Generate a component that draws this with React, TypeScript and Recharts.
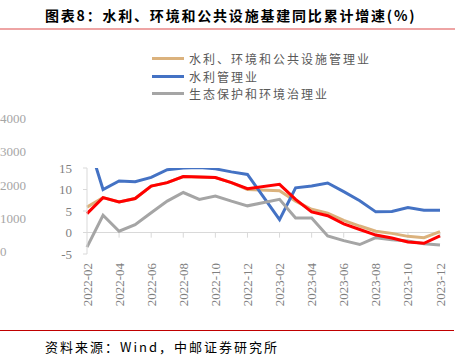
import { LineChart, Line, XAxis, YAxis, ReferenceLine, Legend } from "recharts";

// months shown on the category axis (Jan is missing in the source data)
const months = [
  "2022-02", "2022-03", "2022-04", "2022-05", "2022-06", "2022-07", "2022-08",
  "2022-09", "2022-10", "2022-11", "2022-12", "2023-01", "2023-02", "2023-03",
  "2023-04", "2023-05", "2023-06", "2023-07", "2023-08", "2023-09", "2023-10",
  "2023-11", "2023-12",
];

const waterEnvPublic = [
  5.9, 8.1, 7.1, 7.9, 10.8, 11.6, 13.0, 12.9, 12.8, 11.6, 10.0, null, 9.7, 7.3,
  5.4, 4.5, 2.8, 1.5, 0.3, -0.2, -0.9, -1.2, 0.2,
];
const waterMgmt = [
  22, 10.0, 12.0, 11.8, 12.8, 14.6, 15.0, 15.1, 14.8, 14.1, 13.5, null, 3.0,
  10.4, 10.8, 11.5, 9.5, 7.4, 4.8, 4.9, 5.8, 5.2, 5.2,
];
const ecoEnv = [
  -3.4, 4.0, 0.3, 1.8, 4.6, 7.3, 9.3, 7.7, 8.5, 7.3, 6.2, null, 7.7, 3.4, 3.4,
  -0.8, -1.9, -2.8, -1.2, -1.7, -2.0, -2.6, -2.9,
];
const infraTotal = [
  4.4, 8.1, 7.1, 7.9, 10.8, 11.6, 13.0, 12.9, 12.8, 11.6, 10.2, null, 11.2,
  7.7, 4.8, 3.9, 2.0, 0.7, -0.6, -1.3, -2.2, -2.5, -0.8,
];

const yTicks = [-5, 0, 5, 10, 15];
const ghostTicks = ["4000", "3000", "2000", "1000", "0"];

const data = months.map((m, i) => ({
  month: m,
  waterEnvPublic: waterEnvPublic[i],
  waterMgmt: waterMgmt[i],
  ecoEnv: ecoEnv[i],
  infraTotal: infraTotal[i],
}));

const axisGray = "#d9d9d9";
const labelGray = "#7f7f7f";
const serif = "'Liberation Serif', 'Times New Roman', serif";
const cjk = "'Noto Sans CJK SC', 'Noto Sans', sans-serif";

function MonthTick(props: any) {
  const { x, y, payload } = props;
  return (
    <text
      x={x}
      y={y}
      dy="0.35em"
      transform={`rotate(-90, ${x}, ${y})`}
      textAnchor="end"
      fill={labelGray}
      fontSize={13}
      fontFamily={serif}
    >
      {payload.value}
    </text>
  );
}

function LegendBox(props: any) {
  const items = (props.payload || []).filter((p: any) => p.type !== "none");
  return (
    <div style={{ fontFamily: cjk, fontSize: 12, color: "#595959" }}>
      {items.map((p: any) => (
        <div
          key={p.value}
          style={{ display: "flex", alignItems: "center", height: 17.5 }}
        >
          <span
            style={{
              display: "inline-block",
              width: 32,
              height: 3,
              background: p.color,
              marginRight: 5,
            }}
          />
          <span style={{ letterSpacing: 2 }}>{p.value}</span>
        </div>
      ))}
    </div>
  );
}

export default function App() {
  return (
    <div
      style={{
        position: "absolute",
        left: 0,
        top: 0,
        width: 464,
        height: 357,
        background: "#fff",
        overflow: "hidden",
      }}
    >
      <div
        style={{
          position: "absolute",
          left: 45,
          top: 5,
          fontFamily: cjk,
          fontWeight: 700,
          fontSize: 14,
          letterSpacing: 1.8,
          color: "#000",
          whiteSpace: "nowrap",
        }}
      >
        图表8：水利、环境和公共设施基建同比累计增速(%)
      </div>
      <div
        style={{
          position: "absolute",
          left: 0,
          top: 28,
          width: 455,
          height: 2,
          background: "#eea4a4",
        }}
      />

      {ghostTicks.map((t, i) => (
        <div
          key={t}
          style={{
            position: "absolute",
            left: 0,
            top: 111 + i * 33.3,
            fontFamily: serif,
            fontSize: 13,
            color: "#a6a6a6",
          }}
        >
          {t}
        </div>
      ))}

      <div style={{ position: "absolute", left: 0, top: 0 }}>
        <LineChart
          width={464}
          height={357}
          data={data}
          margin={{ top: 168, right: 24, bottom: 43, left: 60 }}
        >
          <XAxis
            dataKey="month"
            interval={1}
            axisLine={false}
            tickLine={false}
            tickSize={0}
            tickMargin={9}
            height={60}
            tick={<MonthTick />}
          />
          <YAxis
            domain={[-5, 15]}
            ticks={yTicks}
            allowDataOverflow
            width={27}
            axisLine={{ stroke: axisGray }}
            tickLine={{ stroke: axisGray }}
            tickSize={4}
            tickMargin={11}
            tick={{ fill: labelGray, fontSize: 13, fontFamily: serif }}
          />
          <ReferenceLine y={0} stroke={axisGray} strokeWidth={1} />
          {months
            .filter((_, i) => i % 2 === 0 && i > 0)
            .map((m) => (
              <ReferenceLine
                key={m}
                segment={[
                  { x: m, y: 0 },
                  { x: m, y: -1.2 },
                ]}
                stroke={axisGray}
                strokeWidth={1}
              />
            ))}
          <Legend
            layout="vertical"
            align="center"
            verticalAlign="middle"
            wrapperStyle={{ position: "absolute", top: 50, left: 152, width: 260 }}
            content={<LegendBox />}
          />
          <Line
            dataKey="waterEnvPublic"
            name="水利、环境和公共设施管理业"
            stroke="#dbb27d"
            strokeWidth={3}
            dot={false}
            connectNulls
            isAnimationActive={false}
          />
          <Line
            dataKey="waterMgmt"
            name="水利管理业"
            stroke="#4472c4"
            strokeWidth={3}
            dot={false}
            connectNulls
            isAnimationActive={false}
          />
          <Line
            dataKey="ecoEnv"
            name="生态保护和环境治理业"
            stroke="#a5a5a5"
            strokeWidth={3}
            dot={false}
            connectNulls
            isAnimationActive={false}
          />
          <Line
            dataKey="infraTotal"
            name="基建"
            legendType="none"
            stroke="#ff0000"
            strokeWidth={3}
            dot={false}
            connectNulls
            isAnimationActive={false}
          />
        </LineChart>
      </div>

      <div
        style={{
          position: "absolute",
          left: 0,
          top: 330,
          width: 454,
          height: 1,
          background: "#c00000",
        }}
      />
      <div
        style={{
          position: "absolute",
          left: 45,
          top: 337,
          fontFamily: cjk,
          fontSize: 13,
          letterSpacing: 2,
          color: "#000",
          whiteSpace: "nowrap",
        }}
      >
        资料来源：Wind，中邮证券研究所
      </div>
    </div>
  );
}
